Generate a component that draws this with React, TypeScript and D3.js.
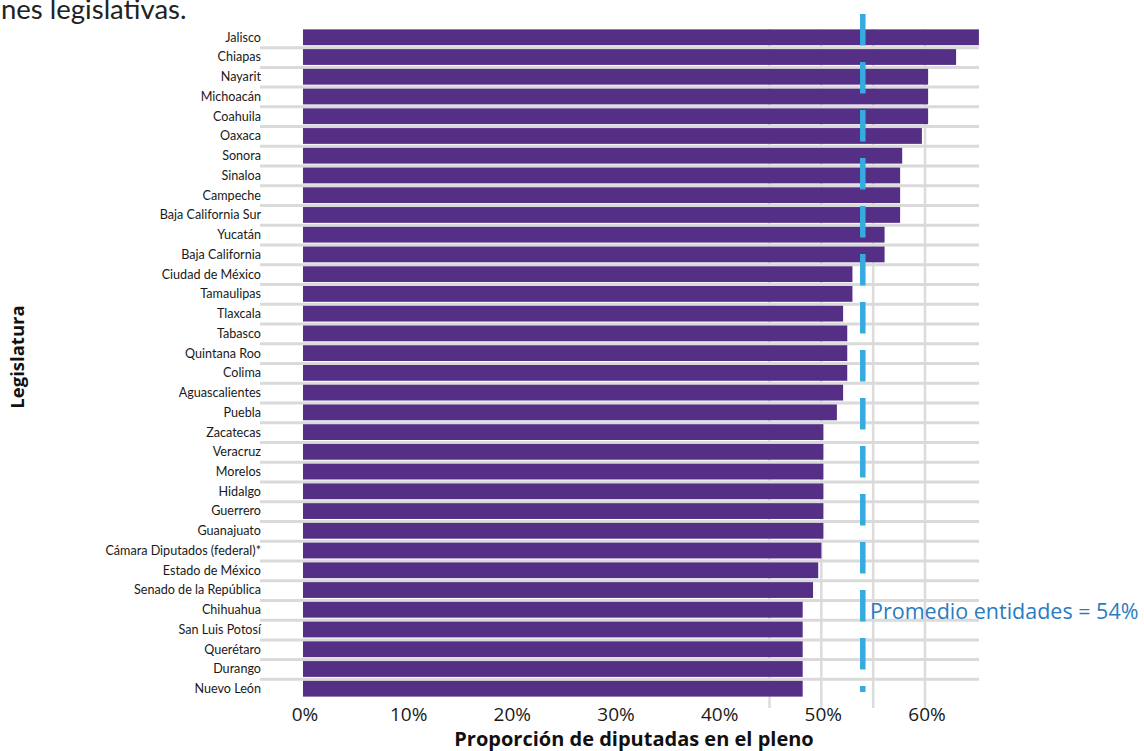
import React from "react";
import * as d3 from "d3";

const categories = [
  "Jalisco", "Chiapas", "Nayarit", "Michoacán", "Coahuila", "Oaxaca", "Sonora", "Sinaloa",
  "Campeche", "Baja California Sur", "Yucatán", "Baja California", "Ciudad de México",
  "Tamaulipas", "Tlaxcala", "Tabasco", "Quintana Roo", "Colima", "Aguascalientes", "Puebla",
  "Zacatecas", "Veracruz", "Morelos", "Hidalgo", "Guerrero", "Guanajuato",
  "Cámara Diputados (federal)*", "Estado de México", "Senado de la República", "Chihuahua",
  "San Luis Potosí", "Querétaro", "Durango", "Nuevo León",
];

const values = [
  65.2, 63.0, 60.3, 60.3, 60.3, 59.7, 57.8, 57.6,
  57.6, 57.6, 56.1, 56.1, 53.0,
  53.0, 52.1, 52.5, 52.5, 52.5, 52.1, 51.5,
  50.2, 50.2, 50.2, 50.2, 50.2, 50.2,
  50.0, 49.7, 49.2, 48.2,
  48.2, 48.2, 48.2, 48.2,
];

const xTicks = [0, 10, 20, 30, 40, 50, 60];
const xGrid = [45, 50, 55, 60];
const average = 54;

const W = 1144;
const H = 751;
const font = "'Open Sans', 'DejaVu Sans', sans-serif";
const labelFont = "Lato, 'Open Sans', sans-serif";

export default function App() {
  const x = d3.scaleLinear().domain([0, 60]).range([303, 925]);
  const y = d3
    .scaleBand<string>()
    .domain(categories)
    .range([27.4, 698.6])
    .paddingInner(0.2)
    .paddingOuter(0.1);
  const step = y.step();
  const bw = y.bandwidth();

  return (
    <svg
      width={W}
      height={H}
      style={{ position: "absolute", left: 0, top: 0, background: "#fff" }}
      fontFamily={font}
    >
      <text x={1} y={19} fontSize={27.5} fontFamily={labelFont} fill="#222">
        nes legislativas.
      </text>

      {/* vertical gridlines */}
      {xGrid.map((t) => (
        <line
          key={"vg" + t}
          x1={x(t)}
          x2={x(t)}
          y1={29}
          y2={708}
          stroke="#dcdcdc"
          strokeWidth={2.5}
        />
      ))}

      {/* horizontal separators */}
      {categories.slice(0, -1).map((c) => {
        const yy = (y(c) as number) + bw + (step - bw) / 2 + 0.5;
        return (
          <line
            key={"hg" + c}
            x1={260}
            x2={979}
            y1={yy}
            y2={yy}
            stroke="#dadada"
            strokeWidth={3}
          />
        );
      })}

      {/* bars */}
      {categories.map((c, i) => (
        <rect
          key={"b" + c}
          x={x(0)}
          y={y(c)}
          width={x(values[i]) - x(0)}
          height={bw}
          fill="#552f86"
        />
      ))}

      {/* category labels */}
      {categories.map((c) => (
        <text
          key={"l" + c}
          x={261}
          y={(y(c) as number) + bw / 2}
          dy="0.35em"
          textAnchor="end"
          fontSize={12.6}
          fontFamily={labelFont}
          fill="#1a1a1a"
        >
          {c}
        </text>
      ))}

      {/* average dashed line */}
      <line
        x1={x(average)}
        x2={x(average)}
        y1={14}
        y2={692}
        stroke="#35abe0"
        strokeWidth={5.5}
        strokeDasharray="31.5 16.5"
      />
      <text x={870} y={619} fontSize={21.5} fontWeight={500} fill="#2a7cc0">
        Promedio entidades = 54%
      </text>

      {/* x tick labels */}
      {xTicks.map((t) => (
        <text
          key={"t" + t}
          x={x(t) + 2}
          y={721}
          textAnchor="middle"
          fontSize={19}
          fill="#1a1a1a"
        >
          {t}%
        </text>
      ))}

      <text x={634} y={746} textAnchor="middle" fontSize={20} fontWeight={700} fill="#111">
        Proporción de diputadas en el pleno
      </text>
      <text
        transform={`translate(24, 357) rotate(-90)`}
        textAnchor="middle"
        fontSize={18.5}
        fontWeight={700}
        fill="#111"
      >
        Legislatura
      </text>
    </svg>
  );
}
